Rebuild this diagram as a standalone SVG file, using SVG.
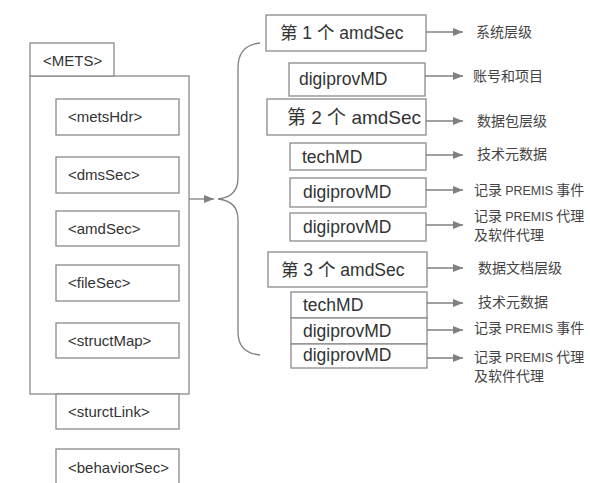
<svg xmlns="http://www.w3.org/2000/svg" width="590" height="483" viewBox="0 0 590 483">
<style>
.box{fill:#fff;stroke:#8a8a8a;stroke-width:1.3}
.t{font-family:"Liberation Sans","Noto Sans CJK SC",sans-serif;fill:#333}
.l{font-size:15px}
.m{font-size:17.5px}
.c{font-family:"Noto Sans CJK SC","Liberation Sans",sans-serif;font-size:14px;fill:#444}
.p{font-family:"Liberation Sans",sans-serif;font-size:12.5px}
.ln{stroke:#808080;stroke-width:1.3;fill:none}
</style>
<defs>
<marker id="ah" viewBox="0 0 10 8" refX="10" refY="4" markerWidth="10" markerHeight="8" markerUnits="userSpaceOnUse" orient="auto">
<path d="M0,0 L10,4 L0,8 Z" fill="#808080"/>
</marker>
<clipPath id="clipLast"><rect x="290" y="344" width="137" height="23"/></clipPath>
</defs>
<rect width="590" height="483" fill="#fff"/>

<g id="mets">
<rect class="box" x="30" y="76" width="159" height="318"/>
<rect class="box" x="30" y="43" width="84" height="33"/>
<text class="t l" x="43" y="66">&lt;METS&gt;</text>
</g>
<g id="metsHdr"><rect class="box" x="56" y="99" width="123" height="36"/><text class="t l" x="68" y="122">&lt;metsHdr&gt;</text></g>
<g id="dmsSec"><rect class="box" x="56" y="157" width="123" height="36"/><text class="t l" x="68" y="180">&lt;dmsSec&gt;</text></g>
<g id="amdSec"><rect class="box" x="56" y="211" width="123" height="35"/><text class="t l" x="68" y="234">&lt;amdSec&gt;</text></g>
<g id="fileSec"><rect class="box" x="56" y="265" width="123" height="36"/><text class="t l" x="68" y="288">&lt;fileSec&gt;</text></g>
<g id="structMap"><rect class="box" x="56" y="323" width="123" height="35"/><text class="t l" x="68" y="346">&lt;structMap&gt;</text></g>
<g id="sturctLink"><rect class="box" x="56" y="394" width="123" height="35"/><text class="t l" x="68" y="417">&lt;sturctLink&gt;</text></g>
<g id="behaviorSec"><rect class="box" x="56" y="449" width="123" height="45"/><text class="t l" x="68" y="473">&lt;behaviorSec&gt;</text></g>

<g id="amdSec1"><rect class="box" x="266" y="15" width="160" height="36"/><text class="t m" x="280" y="39">第 1 个 amdSec</text></g>
<g id="digiprovMD1"><rect class="box" x="289" y="63" width="136" height="33"/><text class="t m" x="299" y="85">digiprovMD</text></g>
<g id="amdSec2"><rect class="box" x="267" y="99" width="159" height="36"/><text class="t" style="font-size:19px" x="287" y="124">第 2 个 amdSec</text></g>
<g id="techMD2"><rect class="box" x="290" y="143" width="136" height="27"/><text class="t m" x="302" y="163">techMD</text></g>
<g id="digiprovMD2a"><rect class="box" x="290" y="178" width="136" height="29"/><text class="t m" x="303" y="198">digiprovMD</text></g>
<g id="digiprovMD2b"><rect class="box" x="290" y="213" width="136" height="28"/><text class="t m" x="303" y="233">digiprovMD</text></g>
<g id="amdSec3"><rect class="box" x="268" y="252" width="159" height="35"/><text class="t m" x="281" y="276">第 3 个 amdSec</text></g>
<g id="techMD3"><rect class="box" x="291" y="292" width="136" height="26"/><text class="t m" x="303" y="311">techMD</text></g>
<g id="digiprovMD3a"><rect class="box" x="291" y="318" width="136" height="26"/><text class="t m" x="303" y="337">digiprovMD</text></g>
<g id="digiprovMD3b"><rect class="box" x="291" y="344" width="136" height="24"/><text class="t m" x="303" y="361" clip-path="url(#clipLast)">digiprovMD</text></g>

<g id="labels">
<text class="c" x="476" y="37">系统层级</text>
<text class="c" x="473" y="81">账号和项目</text>
<text class="c" x="477" y="126">数据包层级</text>
<text class="c" x="477" y="159">技术元数据</text>
<text class="c" x="474" y="195">记录 <tspan class="p">PREMIS</tspan> 事件</text>
<text class="c" x="474" y="221">记录 <tspan class="p">PREMIS</tspan> 代理</text>
<text class="c" x="474" y="240">及软件代理</text>
<text class="c" x="478" y="273">数据文档层级</text>
<text class="c" x="478" y="307">技术元数据</text>
<text class="c" x="474" y="333">记录 <tspan class="p">PREMIS</tspan> 事件</text>
<text class="c" x="474" y="362">记录 <tspan class="p">PREMIS</tspan> 代理</text>
<text class="c" x="474" y="381">及软件代理</text>
</g>

<g id="connectors">
<line class="ln" x1="189" y1="199" x2="214" y2="199" marker-end="url(#ah)"/>
<path class="ln" d="M260,43 Q238,45 238,68 L238,178 Q238,197 218,199 Q238,201 238,220 L238,332 Q238,353 260,355"/>
<line class="ln" x1="426" y1="32" x2="463" y2="32" marker-end="url(#ah)"/>
<line class="ln" x1="425" y1="76" x2="463" y2="76" marker-end="url(#ah)"/>
<line class="ln" x1="426" y1="121" x2="463" y2="121" marker-end="url(#ah)"/>
<line class="ln" x1="426" y1="155" x2="463" y2="155" marker-end="url(#ah)"/>
<line class="ln" x1="426" y1="190" x2="463" y2="190" marker-end="url(#ah)"/>
<line class="ln" x1="426" y1="225" x2="463" y2="225" marker-end="url(#ah)"/>
<line class="ln" x1="427" y1="268" x2="463" y2="268" marker-end="url(#ah)"/>
<line class="ln" x1="427" y1="303" x2="463" y2="303" marker-end="url(#ah)"/>
<line class="ln" x1="427" y1="330" x2="463" y2="330" marker-end="url(#ah)"/>
<line class="ln" x1="427" y1="358" x2="463" y2="358" marker-end="url(#ah)"/>
</g>
</svg>
